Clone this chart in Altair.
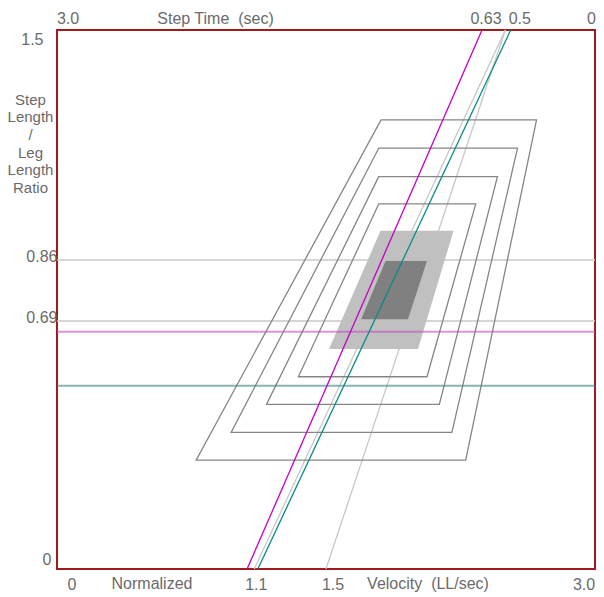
import altair as alt
import pandas as pd

# ---------------- data ----------------
VEL_MIN, VEL_MAX = 0.0, 3.0
RATIO_MIN, RATIO_MAX = 0.0, 1.5

velocity_ticks = [0, 1.1, 1.5, 3.0]
step_time_ticks = [3.0, 0.63, 0.5, 0]
ratio_ticks = [0, 0.69, 0.86, 1.5]

# grey reference lines
ref_ratio = [0.86, 0.69]
ref_diag_velocity = [1.10, 1.50]
ref_diag_step_time = [0.50, 0.50]

# coloured trial lines
patient_names = ["Trial 1", "Trial 2"]
patient_ratio = [0.66, 0.51]
patient_diag_velocity = [1.06, 1.12]
patient_diag_step_time = [0.63, 0.47]

# outlined zones (outer to inner)
zone_names = ["Zone 1", "Zone 2", "Zone 3", "Zone 4"]
zone_ratio_low = [0.303, 0.380, 0.458, 0.535]
zone_ratio_high = [1.250, 1.171, 1.092, 1.016]
zone_low_left = [0.776, 0.971, 1.168, 1.346]
zone_low_right = [2.279, 2.202, 2.132, 2.063]
zone_high_left = [1.807, 1.794, 1.794, 1.794]
zone_high_right = [2.674, 2.568, 2.456, 2.335]

# filled bands
band_names = ["Normal range", "Normal core"]
band_ratio_low = [0.612, 0.695]
band_ratio_high = [0.941, 0.857]
band_low_left = [1.517, 1.696]
band_low_right = [2.013, 1.957]
band_high_left = [1.804, 1.832]
band_high_right = [2.211, 2.063]


def trapezoids(names, lo, hi, ll, lr, hl, hr):
    rows = []
    for i, n in enumerate(names):
        rows.append({"zone": n, "ratio": lo[i], "left": ll[i], "right": lr[i]})
        rows.append({"zone": n, "ratio": hi[i], "left": hl[i], "right": hr[i]})
    return pd.DataFrame(rows)


zones_df = trapezoids(zone_names, zone_ratio_low, zone_ratio_high, zone_low_left,
                      zone_low_right, zone_high_left, zone_high_right)
bands_df = trapezoids(band_names, band_ratio_low, band_ratio_high, band_low_left,
                      band_low_right, band_high_left, band_high_right)
ref_h_df = pd.DataFrame({"ratio": ref_ratio})
pat_h_df = pd.DataFrame({"name": patient_names, "ratio": patient_ratio})
ref_d_df = pd.DataFrame({"v0": ref_diag_velocity, "t": ref_diag_step_time,
                         "r0": RATIO_MIN, "r1": RATIO_MAX})
pat_d_df = pd.DataFrame({"name": patient_names, "v0": patient_diag_velocity,
                         "t": patient_diag_step_time, "r0": RATIO_MIN, "r1": RATIO_MAX})

# ---------------- styling ----------------
FONT = "Liberation Sans"
TXT = "#6b6b6b"
FS = 16


def per_label(pairs, default):
    """Conditional axis property keyed on tick value."""
    return {"condition": [{"test": f"datum.value == {v}", "value": o} for v, o in pairs],
            "value": default}


xs = alt.Scale(domain=[VEL_MIN, VEL_MAX], nice=False, zero=False)
ys = alt.Scale(domain=[RATIO_MIN, RATIO_MAX], nice=False, zero=False)

y_axis = alt.Axis(orient="left", values=ratio_ticks, format=".2~f",
                  labelOverlap=False, labelFlush=False,
                  labelOffset=per_label([(1.5, 9), (0, -10)], -3.5),
                  labelPadding=per_label([(1.5, 14), (0, 6)], 0),
                  title=["Step", "Length", "/", "Leg", "Length", "Ratio"],
                  titleAngle=0, titleAlign="center", titleBaseline="alphabetic",
                  titleX=-27, titleY=74, titleLineHeight=17.7, titleFontSize=15)

bottom_axis = alt.Axis(orient="bottom", values=velocity_ticks, format=".1~f",
                       labelExpr="datum.value == 3 ? '3.0' : datum.label",
                       labelOverlap=False, labelFlush=False, labelPadding=7,
                       labelOffset=per_label([(0, 14.5), (1.1, 1.5), (1.5, 6.5), (3, -11.5)], 0),
                       title="Normalized", titleX=94.5, titleY=19.3,
                       titleAlign="center", titleBaseline="alphabetic")

velocity_axis = alt.Axis(orient="bottom", labels=False,
                         title="Velocity\u00a0\u00a0(LL/sec)", titleX=370.5, titleY=19.3,
                         titleAlign="center", titleBaseline="alphabetic")

top_axis = alt.Axis(orient="top", values=[round(VEL_MAX - t, 6) for t in step_time_ticks],
                    labelExpr="datum.value == 0 ? '3.0' : format(3 - datum.value, '~g')",
                    labelOverlap=False, labelFlush=False, labelPadding=3.4,
                    labelOffset=per_label([(0, 10.5), (2.37, 3.5), (2.5, 14), (3, -4)], 0),
                    title="Step Time\u00a0\u00a0(sec)", titleX=158, titleY=-6.7,
                    titleAlign="center", titleBaseline="alphabetic")

# ---------------- layers ----------------
ref_h = alt.Chart(ref_h_df).mark_rule(color="#c8c8c8", strokeWidth=1.5).encode(
    y=alt.Y("ratio:Q", scale=ys, axis=y_axis)
)

ref_d = alt.Chart(ref_d_df).transform_calculate(
    v1=f"{VEL_MAX} - datum.t"
).mark_rule(color="#c8c8c8", strokeWidth=1.3).encode(
    x=alt.X("v0:Q", scale=xs, axis=None),
    x2="v1:Q",
    y=alt.Y("r0:Q", scale=ys, axis=None),
    y2="r1:Q",
)

band_outer = alt.Chart(bands_df).transform_filter(
    alt.datum.zone == band_names[0]
).mark_area(orient="horizontal", color="#c0c0c0").encode(
    y=alt.Y("ratio:Q", scale=ys, axis=None),
    x=alt.X("left:Q", scale=xs, axis=bottom_axis),
    x2="right:Q",
)

band_inner = alt.Chart(bands_df).transform_filter(
    alt.datum.zone == band_names[1]
).mark_area(orient="horizontal", color="#808080").encode(
    y=alt.Y("ratio:Q", scale=ys, axis=None),
    x=alt.X("left:Q", scale=xs, axis=None),
    x2="right:Q",
)

outlines = alt.Chart(zones_df).mark_area(
    orient="horizontal", fillOpacity=0, stroke="#868686", strokeWidth=1.3
).encode(
    y=alt.Y("ratio:Q", scale=ys, axis=None),
    x=alt.X("left:Q", scale=xs, axis=velocity_axis),
    x2="right:Q",
    detail="zone:N",
)

pat_h = alt.Chart(pat_h_df).mark_rule(strokeWidth=2, opacity=0.6).encode(
    y=alt.Y("ratio:Q", scale=ys, axis=None),
    color=alt.Color("name:N", legend=None,
                    scale=alt.Scale(domain=patient_names, range=["#c24cc2", "#398282"])),
)

pat_d = alt.Chart(pat_d_df).transform_calculate(
    v1=f"{VEL_MAX} - datum.t"
).mark_rule(strokeWidth=1.3).encode(
    x=alt.X("v0:Q", scale=xs, axis=top_axis),
    x2="v1:Q",
    y=alt.Y("r0:Q", scale=ys, axis=None),
    y2="r1:Q",
    color=alt.Color("name:N", legend=None,
                    scale=alt.Scale(domain=patient_names, range=["#c400c4", "#0a8a8a"])),
)

chart = alt.layer(
    ref_h, ref_d, band_outer, band_inner, outlines, pat_h, pat_d
).resolve_axis(
    x="independent", y="independent"
).resolve_scale(
    color="independent"
).properties(
    width=538, height=539,
    autosize=alt.AutoSizeParams(type="none"),
    padding={"left": 49, "top": 22, "right": 1, "bottom": 24},
).configure_axis(
    domain=False, ticks=False, tickSize=0, grid=False,
    labelFont=FONT, labelFontSize=FS, labelColor=TXT,
    titleFont=FONT, titleFontSize=FS, titleColor=TXT, titleFontWeight="normal",
).configure_view(
    stroke="#a01c1c", strokeWidth=2
)

chart.save("out.html", embed_options={"renderer": "svg", "actions": False})
